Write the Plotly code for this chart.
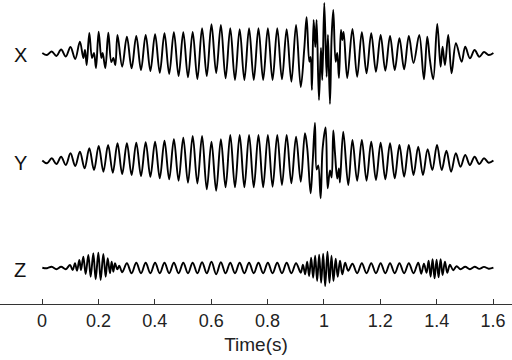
import numpy as np
import plotly.graph_objects as go

# Extrema. Regular parts sit on a half-period grid of the
# 30 Hz carrier (first peak at 0.0344 s); bursts are listed point by point.
grid_t = 0.0344 + np.arange(-2, 95) / 60

x_base = [0, -2, 1.5, -3, 3.5, -3.5, 6, -6, 11.3,
          None, None, None, None, None, None, None,
          18, -13.7, 16.3, -15.3, 17, -17, 18, -18, 18.7, -19.7,
          19.7, -21, 20.7, -23, 20.7, -24.3, 21, -26, 24.7, -23,
          28.7, -20, 28, -25.3, 24.7, -27, 23.7, -27, 24.7, -27,
          24.7, -27, 24.7, -27, 24.7, -26.3, 23.7, -28.7, 28, -34,
          None, None, None, None, None, None, None, None, None, None,
          24, -23.7, 20.7, -20.3, 19.7, -18.7, 18, -17.7, 17, -17,
          14.7, -16.3, 17, -10,
          None, None, None, None, None, None, None, None, None, None,
          6.3, -5.3, 3, -3.7, 1, -2, 0]
x_burst_t = [0.1466, 0.1525, 0.1584, 0.1678, 0.1773, 0.1844, 0.1915, 0.2009,
             0.2104, 0.2151, 0.2246, 0.2352, 0.2459, 0.2530, 0.2600,
             0.9303, 0.9385, 0.9480, 0.9527, 0.9574, 0.9633, 0.9693, 0.9740,
             0.9823, 0.9894, 0.9941, 1.0012, 1.0095, 1.0142, 1.0213, 1.0272,
             1.0331, 1.0414, 1.0473, 1.0532, 1.0603, 1.0650, 1.0698, 1.0827,
             1.3381, 1.3546, 1.3664, 1.3759, 1.3877, 1.4019, 1.4137, 1.4208,
             1.4291, 1.4409, 1.4527, 1.4681, 1.4882]
x_burst_v = [-5, 3, -12, 20, -5, 0, -15, 21.3, -5, 0, -15, 20.3, -9, -5, -12,
             4.7, 35.7, -8.7, -4, -37, 33, 6, 33, -47, 5, -27, 50, -23.7, 18,
             -51, 16, 43, -8.7, 0, -25, 23, 13, 21, -25,
             18, -26.3, 16.3, -7, -26.3, 29, -13.7, 6.3, -12, 18, -20.3, 9.7, -8.7]

y_base = [0, -2.8, 2.2, -3.5, 3.8, -4.5, 7.2, -5.5, 8.8, -7.8,
          12.2, -9.5, 14.5, -11.2, 15.5, -12.2, 17.2, -13.5, 17.2, -14.5,
          17.8, -15.5, 18.2, -16.2, 18.8, -17.8, 19.8, -18.8, 21.2, -20.2,
          22.8, -22.2, 24.5, -23,
          24.5, -28.8, 18.8, -30.2, 21.2, -26.8, 25.5, -26.8, 25.5, -26.8,
          25.5, -26.8, 25.5, -26.8, 25.5, -26.2, 25.5, -24.5, 25.5, -22.8,
          23.8, -21.2,
          None, None, None, None, None, None, None, None, None, None,
          20.5, -20.2, 20.5, -20.2, 18.8, -19.5, 17.8, -18.8, 17.2, -17.8,
          15.5, -16.2, 15.5, -14.5, 13.8, -14.5, 11.2, -9.5, 15.5, -9.5,
          9.8, -11.2, 7.2, -6.2, 5.5, -4.5, 3.8, -3.5, 2.2, -2.2, 0]
y_burst_t = [0.9326, 0.9409, 0.9527, 0.9598, 0.9681, 0.9740, 0.9799, 0.9882,
             0.9953, 1.0060, 1.0131, 1.0213, 1.0272, 1.0331, 1.0390, 1.0473,
             1.0532, 1.0567, 1.0685, 1.0862]
y_burst_v = [27.2, 12, -32.8, -3, 37.5, -9, -5, -37.8, 12, 33, -27.8, -10,
             -17, 30, 8, -18, -8, -22, 28.8, -24.5]

z_base = [0, -0.5, 1, -1.5, 1, -1.5,
          None, None, None, None, None, None, None, None, None, None, None,
          -4.5, 4.4, -5.6, 5, -5.6, 5, -5.6, 5, -5.6, 5,
          -5.6, 5, -5.6, 5, -5.6, 5, -5.6, 5.5, -5.6, 6,
          -6.5, 5.5, -5.6, 5, -5.6, 5, -5.6, 5, -5.6, 5,
          -5.6, 5, -5.6, 5, -5.6, 5, -5.6, 4.5, -5,
          None, None, None, None, None, None, None, None, None, None,
          4, -5.6, 4.4, -5.6, 4.4, -5.6, 4.4, -5.6, 4.4, -5.6,
          4.4, -5.6, 4.4, -5.6, 5,
          None, None, None, None, None, None, None, None,
          -1.5, 1, -1.5, 1, -1.2, 0.8, -1, 0]
z_burst_t = [0.0993, 0.1087, 0.1170, 0.1241, 0.1324, 0.1383, 0.1466, 0.1548,
             0.1643, 0.1726, 0.1820, 0.1903, 0.1998, 0.2080, 0.2175, 0.2258,
             0.2329, 0.2411, 0.2470, 0.2530, 0.2589, 0.2671, 0.2742,
             0.9255, 0.9333, 0.9404, 0.9475, 0.9546, 0.9617, 0.9688, 0.9759,
             0.9830, 0.9901, 0.9972, 1.0043, 1.0125, 1.0196, 1.0267, 1.0338,
             1.0416, 1.0487, 1.0570, 1.0652, 1.0752, 1.0860,
             1.3452, 1.3546, 1.3641, 1.3712, 1.3783, 1.3853, 1.3924, 1.3995,
             1.4066, 1.4137, 1.4208, 1.4291, 1.4374, 1.4468, 1.4586, 1.4704]
z_burst_v = [2.7, -2.3, 4.4, -3, 7.7, -2.3, 11, -6.3, 12.7, -9, 14.4, -11.6,
             15, -12.3, 13.7, -9, 9.4, -5.6, 6, -4, 4.4, -1.6, 2,
             3, -6.7, 6, -8.3, 10, -10, 12, -13.3, 13, -15, 14, -18.3, 16,
             -15, 12, -13.3, 9, -9, 7, -6.7, 5, -3,
             -6, 4, -5, 7, -9, 8.4, -10.6, 8, -9.6, 8.4, -7.3, 6, -5, 3, -2.5, 1.5]

labels = ["X", "Y", "Z"]
offsets = [-53, -160.5, -267.7]
tick_vals = [0, 0.2, 0.4, 0.6, 0.8, 1.0, 1.2, 1.4, 1.6]
tick_text = ["0", "0.2", "0.4", "0.6", "0.8", "1", "1.2", "1.4", "1.6"]


def merge(base, bt, bv):
    pts = [(t, v) for t, v in zip(grid_t, base) if v is not None]
    pts += list(zip(bt, bv))
    pts.sort()
    return [p[0] for p in pts], [p[1] for p in pts]


fig = go.Figure()
series = [(x_base, x_burst_t, x_burst_v),
          (y_base, y_burst_t, y_burst_v),
          (z_base, z_burst_t, z_burst_v)]
for (base, bt, bv), off in zip(series, offsets):
    t, v = merge(base, bt, bv)
    fig.add_trace(go.Scatter(x=t, y=[val + off for val in v], mode="lines",
                             line=dict(color="black", width=1.9, shape="spline"),
                             hoverinfo="skip"))

for lab, off in zip(labels, offsets):
    fig.add_annotation(x=-0.078, y=off - 2, text=lab, showarrow=False,
                       font=dict(size=20, color="#111"))

font = "Liberation Sans, Arial, sans-serif"
fig.update_layout(
    width=512, height=360,
    margin=dict(l=0, r=0, t=0, b=56, pad=0),
    plot_bgcolor="white", paper_bgcolor="white",
    showlegend=False,
    font=dict(family=font, color="#222"),
    xaxis=dict(range=[-0.149, 1.667], tickvals=tick_vals, ticktext=tick_text,
               ticks="inside", ticklen=5, tickwidth=1.2, tickcolor="#333",
               showline=True, linecolor="#333", linewidth=1.3,
               showgrid=False, zeroline=False, automargin=False,
               tickfont=dict(size=18),
               title=dict(text="Time(s)", font=dict(size=19), standoff=7)),
    yaxis=dict(visible=False, range=[-304, 0], automargin=False),
)

# the page body has a default 8px margin; drop it so the figure sits at 0,0
fig.write_html("out.html", config={"displayModeBar": False},
               post_script="document.body.style.margin='0';")
